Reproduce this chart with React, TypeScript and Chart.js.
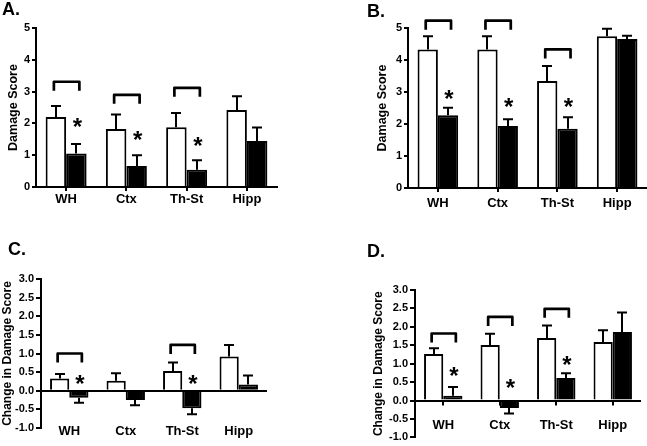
import React, { useEffect, useRef } from 'react';
import { Chart, registerables } from 'chart.js';

Chart.register(...registerables);

const FONT = "'Liberation Sans', Arial, sans-serif";

// ---------- data ----------
const categories = ['WH', 'Ctx', 'Th-St', 'Hipp'];

// Panel A
const aControl = [2.2, 1.82, 1.88, 2.42];
const aControlErr = [0.35, 0.46, 0.45, 0.43];
const aTreated = [1.05, 0.66, 0.54, 1.45];
const aTreatedErr = [0.3, 0.34, 0.3, 0.42];
const aStars = [2.03, 1.62, 1.42, null];
const aBrackets = [3.31, 2.9, 3.12, null];

// Panel B
const bControl = [4.33, 4.33, 3.34, 4.74];
const bControlErr = [0.41, 0.41, 0.47, 0.24];
const bTreated = [2.27, 1.94, 1.85, 4.66];
const bTreatedErr = [0.24, 0.21, 0.36, 0.1];
const bStars = [2.93, 2.67, 2.67, null];
const bBrackets = [5.23, 5.23, 4.33, null];

// Panel C
const cControl = [0.33, 0.27, 0.53, 0.92];
const cControlErr = [0.12, 0.2, 0.23, 0.31];
const cTreated = [-0.19, -0.25, -0.47, 0.17];
const cTreatedErr = [0.13, 0.14, 0.16, 0.24];
const cStars = [0.31, null, 0.3, null];
const cBrackets = [1.0, null, 1.23, null];

// Panel D
const dControl = [1.26, 1.51, 1.7, 1.59];
const dControlErr = [0.16, 0.3, 0.34, 0.32];
const dTreated = [0.13, -0.2, 0.61, 1.86];
const dTreatedErr = [0.24, 0.15, 0.13, 0.53];
const dStars = [0.79, 0.46, 1.1, null];
const dBrackets = [1.82, 2.27, 2.49, null];

const scoreTitle = 'Damage Score';
const changeTitle = 'Change in Damage Score';

type Spec = {
  letter: string;
  letterPos: { left: number; top: number };
  left: number; top: number; width: number; height: number;
  area: { left: number; top: number; right: number; bottom: number };
  yMin: number; yMax: number; yStep: number; decimals: number;
  yTitle: string; titleSize: number; titlePad: number;
  tickLen: number; tickPad: number; xPad: number;
  zeroLine: boolean; axisTicks: boolean; zeroTicks: boolean;
  control: number[]; controlErr: number[];
  treated: number[]; treatedErr: number[];
  stars: (number | null)[]; brackets: (number | null)[];
};

const specs: Spec[] = [
  {
    letter: 'A.', letterPos: { left: 2, top: 0 },
    left: 0, top: 0, width: 300, height: 215,
    area: { left: 36, top: 28, right: 277, bottom: 187 },
    yMin: 0, yMax: 5, yStep: 1, decimals: 0,
    yTitle: scoreTitle, titleSize: 12.5, titlePad: 6.5,
    tickLen: 4, tickPad: 2, xPad: 1,
    zeroLine: false, axisTicks: true, zeroTicks: false,
    control: aControl, controlErr: aControlErr, treated: aTreated, treatedErr: aTreatedErr,
    stars: aStars, brackets: aBrackets,
  },
  {
    letter: 'B.', letterPos: { left: 367, top: 2 },
    left: 320, top: 0, width: 327, height: 215,
    area: { left: 88, top: 28, right: 327, bottom: 188 },
    yMin: 0, yMax: 5, yStep: 1, decimals: 0,
    yTitle: scoreTitle, titleSize: 12.5, titlePad: 55.5,
    tickLen: 4, tickPad: 2, xPad: 4,
    zeroLine: false, axisTicks: true, zeroTicks: false,
    control: bControl, controlErr: bControlErr, treated: bTreated, treatedErr: bTreatedErr,
    stars: bStars, brackets: bBrackets,
  },
  {
    letter: 'C.', letterPos: { left: 8, top: 240 },
    left: 0, top: 220, width: 300, height: 226,
    area: { left: 41, top: 59, right: 267, bottom: 208 },
    yMin: -1, yMax: 3, yStep: 0.5, decimals: 1,
    yTitle: changeTitle, titleSize: 12, titlePad: 0,
    tickLen: 5, tickPad: 2, xPad: -8,
    zeroLine: true, axisTicks: false, zeroTicks: false,
    control: cControl, controlErr: cControlErr, treated: cTreated, treatedErr: cTreatedErr,
    stars: cStars, brackets: cBrackets,
  },
  {
    letter: 'D.', letterPos: { left: 367, top: 242 },
    left: 320, top: 220, width: 327, height: 226,
    area: { left: 95, top: 70, right: 321, bottom: 220 },
    yMin: -1, yMax: 3, yStep: 0.5, decimals: 1,
    yTitle: changeTitle, titleSize: 12, titlePad: 51,
    tickLen: 5, tickPad: 2, xPad: -24,
    zeroLine: true, axisTicks: false, zeroTicks: true,
    control: dControl, controlErr: dControlErr, treated: dTreated, treatedErr: dTreatedErr,
    stars: dStars, brackets: dBrackets,
  },
];

function makeAnnotPlugin(s: Spec) {
  return {
    id: 'annot',
    afterDatasetsDraw(chart: any) {
      const ctx = chart.ctx as CanvasRenderingContext2D;
      const y = chart.scales.y;
      const x = chart.scales.x;
      const m0 = chart.getDatasetMeta(0).data;
      const m1 = chart.getDatasetMeta(1).data;
      ctx.save();
      ctx.strokeStyle = '#000';
      ctx.fillStyle = '#000';
      // error bars
      const drawErr = (els: any[], vals: number[], errs: number[]) => {
        ctx.lineWidth = 2;
        els.forEach((el, i) => {
          const v = vals[i];
          const dir = v < 0 ? -1 : 1;
          const y0 = y.getPixelForValue(v);
          const y1 = y.getPixelForValue(v + dir * errs[i]);
          const cx = Math.round(el.x);
          ctx.beginPath();
          ctx.moveTo(cx, y0);
          ctx.lineTo(cx, y1);
          ctx.moveTo(cx - 5, y1);
          ctx.lineTo(cx + 5, y1);
          ctx.stroke();
        });
      };
      drawErr(m0, s.control, s.controlErr);
      drawErr(m1, s.treated, s.treatedErr);

      // zero-axis ticks
      if (s.zeroTicks) {
        const zy = y.getPixelForValue(0);
        ctx.lineWidth = 2;
        categories.forEach((_, i) => {
          const px = Math.round(x.getPixelForValue(i));
          ctx.beginPath();
          ctx.moveTo(px, zy);
          ctx.lineTo(px, zy + 5);
          ctx.stroke();
        });
      }

      // brackets
      ctx.lineWidth = 2.7;
      ctx.lineJoin = 'round';
      s.brackets.forEach((b, i) => {
        if (b == null) return;
        const by = y.getPixelForValue(b);
        const lx = m0[i].x - 2;
        const rx = m1[i].x + 3;
        ctx.beginPath();
        ctx.moveTo(lx, by + 9);
        ctx.lineTo(lx, by);
        ctx.lineTo(rx, by);
        ctx.lineTo(rx, by + 9);
        ctx.stroke();
      });

      // stars
      ctx.font = `bold 24px ${FONT}`;
      ctx.textAlign = 'center';
      ctx.textBaseline = 'alphabetic';
      const mt = ctx.measureText('*');
      const asc = mt.actualBoundingBoxAscent;
      const desc = mt.actualBoundingBoxDescent;
      s.stars.forEach((st, i) => {
        if (st == null) return;
        const ty = y.getPixelForValue(st);
        ctx.fillText('*', m1[i].x + 1, ty + (asc - desc) / 2);
      });
      ctx.restore();
    },
  };
}

function Panel({ s }: { s: Spec }) {
  const ref = useRef<HTMLCanvasElement>(null);
  useEffect(() => {
    const canvas = ref.current!;
    const xScale: any = {
      offset: true,
      grid: {
        display: s.axisTicks,
        drawOnChartArea: false,
        drawTicks: true,
        tickLength: 4,
        color: '#000',
        tickColor: '#000',
        lineWidth: 2,
        offset: false,
      },
      border: { display: !s.zeroLine, color: '#000', width: 2 },
      ticks: {
        color: '#000',
        font: { family: FONT, size: 13, weight: 'bold' },
        padding: s.xPad,
        maxRotation: 0,
        autoSkip: false,
      },
    };
    if (s.zeroLine) {
      xScale.position = { y: s.yMin };
    } else {
      xScale.afterFit = (sc: any) => { sc.height = s.height - s.area.bottom; };
    }
    const chart = new Chart(canvas, {
      type: 'bar',
      data: {
        labels: categories,
        datasets: [
          { data: s.control, backgroundColor: '#ffffff', borderColor: '#000000', borderWidth: 2 },
          { data: s.treated, backgroundColor: '#000000', borderColor: '#000000', borderWidth: 2 },
        ],
      },
      options: {
        responsive: false,
        animation: false,
        events: [],
        layout: {
          padding: {
            left: 0,
            top: s.area.top,
            right: s.width - s.area.right,
            bottom: s.zeroLine ? s.height - s.area.bottom : 0,
          },
        },
        datasets: { bar: { categoryPercentage: 0.68, barPercentage: 1 } },
        plugins: { legend: { display: false }, tooltip: { enabled: false } },
        scales: {
          x: xScale,
          y: {
            position: 'left',
            min: s.yMin,
            max: s.yMax,
            ticks: {
              stepSize: s.yStep,
              color: '#000',
              font: { family: FONT, size: 11, weight: 'bold' },
              padding: s.tickPad,
              callback: (v: any) => Number(v).toFixed(s.decimals),
            },
            grid: {
              drawOnChartArea: s.zeroLine,
              drawTicks: true,
              tickLength: s.tickLen,
              lineWidth: 2,
              tickColor: '#000',
              color: (c: any) => (s.zeroLine && c.tick && Math.abs(c.tick.value) < 1e-9 ? '#000' : 'rgba(0,0,0,0)'),
            },
            border: { display: true, color: '#000', width: 2 },
            title: {
              display: true,
              text: s.yTitle,
              color: '#000',
              font: { family: FONT, size: s.titleSize, weight: 'bold' },
              padding: { top: s.titlePad, bottom: 0 },
            },
            afterFit: (sc: any) => { sc.width = s.area.left; },
          },
        },
      } as any,
      plugins: [makeAnnotPlugin(s)],
    });
    return () => chart.destroy();
  }, [s]);
  return (
    <canvas
      ref={ref}
      width={s.width}
      height={s.height}
      style={{ position: 'absolute', left: s.left, top: s.top, width: s.width, height: s.height, display: 'block' }}
    />
  );
}

export default function App() {
  return (
    <div>
      <div style={{ position: 'absolute', left: 0, top: 0, width: 647, height: 446, background: '#fff' }} />
      {specs.map((s) => (
        <Panel key={s.letter} s={s} />
      ))}
      {specs.map((s) => (
        <div
          key={'l' + s.letter}
          style={{
            position: 'absolute',
            left: s.letterPos.left,
            top: s.letterPos.top,
            fontFamily: FONT,
            fontWeight: 'bold',
            fontSize: 18,
            lineHeight: '18px',
            color: '#000',
          }}
        >
          {s.letter}
        </div>
      ))}
    </div>
  );
}
